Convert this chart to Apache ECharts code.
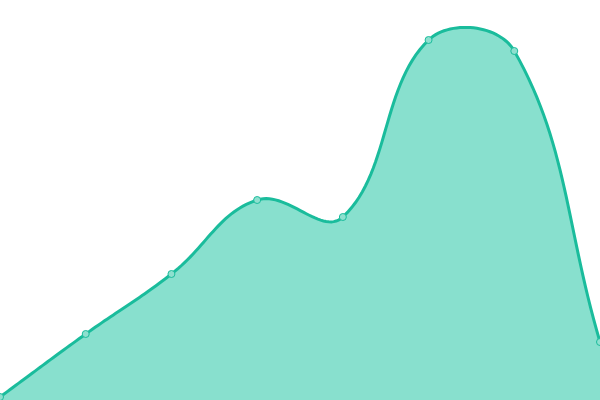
<!DOCTYPE html>
<html>
<head>
<meta charset="utf-8">
<script src="https://cdn.jsdelivr.net/npm/echarts@6/dist/echarts.min.js"></script>
<style>
	html, body { margin: 0; padding: 0; background: #fff; }
	#main { width: 600px; height: 400px; }
</style>
</head>
<body>
<div id="main"></div>
<script>
var categories = ['1', '2', '3', '4', '5', '6', '7', '8'];
var values = [3, 66, 126, 200, 183, 360, 349, 58];

var lineColor = '#1abc9c';
var areaColor = '#88e0ce';
var tension = 0.4;

// spline control points, same idea as a cardinal curve
function controlPoints(prev, cur, next) {
	var d01 = Math.sqrt(Math.pow(cur[0] - prev[0], 2) + Math.pow(cur[1] - prev[1], 2));
	var d12 = Math.sqrt(Math.pow(next[0] - cur[0], 2) + Math.pow(next[1] - cur[1], 2));
	var s01 = d01 / (d01 + d12) || 0;
	var s12 = d12 / (d01 + d12) || 0;
	var fa = tension * s01;
	var fb = tension * s12;
	return {
		prev: [cur[0] - fa * (next[0] - prev[0]), cur[1] - fa * (next[1] - prev[1])],
		next: [cur[0] + fb * (next[0] - prev[0]), cur[1] + fb * (next[1] - prev[1])]
	};
}

function curvePoints(pts) {
	var cps = [];
	for (var i = 0; i < pts.length; i++) {
		var prev = pts[i - 1] || pts[i];
		var next = pts[i + 1] || pts[i];
		cps.push(controlPoints(prev, pts[i], next));
	}
	var out = [pts[0]];
	for (var i = 0; i < pts.length - 1; i++) {
		var p0 = pts[i], c1 = cps[i].next, c2 = cps[i + 1].prev, p1 = pts[i + 1];
		for (var s = 1; s <= 30; s++) {
			var t = s / 30, u = 1 - t;
			out.push([
				u * u * u * p0[0] + 3 * u * u * t * c1[0] + 3 * u * t * t * c2[0] + t * t * t * p1[0],
				u * u * u * p0[1] + 3 * u * u * t * c1[1] + 3 * u * t * t * c2[1] + t * t * t * p1[1]
			]);
		}
	}
	return out;
}

function renderCurve(params, api) {
	var pts = [];
	for (var i = 0; i < values.length; i++) {
		pts.push(api.coord([i, values[i]]));
	}
	var line = curvePoints(pts);
	var base0 = api.coord([0, 0]);
	var base1 = api.coord([values.length - 1, 0]);
	var area = line.concat([base1, base0]);
	return {
		type: 'group',
		children: [
			{ type: 'polygon', shape: { points: area }, style: { fill: areaColor } },
			{ type: 'polyline', shape: { points: line }, style: { fill: null, stroke: lineColor, lineWidth: 3 } }
		]
	};
}

function drawChart(showAreaId) {
	var myChart = echarts.init(document.getElementById(showAreaId));
	var option = {
		animation: false,
		grid: { left: 0, right: 0, top: 0, bottom: 0 },
		xAxis: {
			type: 'category',
			boundaryGap: false,
			show: false,
			data: categories
		},
		yAxis: {
			type: 'value',
			min: 0,
			max: 400,
			show: false
		},
		series: [
			{
				type: 'custom',
				renderItem: renderCurve,
				data: [0],
				clip: false,
				z: 1
			},
			{
				type: 'scatter',
				data: values,
				symbol: 'circle',
				symbolSize: 7,
				itemStyle: {
					color: '#8ee0cf',
					borderColor: lineColor,
					borderWidth: 1,
					opacity: 1
				},
				z: 2
			}
		]
	};
	myChart.setOption(option);
}

drawChart('main');
</script>
</body>
</html>
